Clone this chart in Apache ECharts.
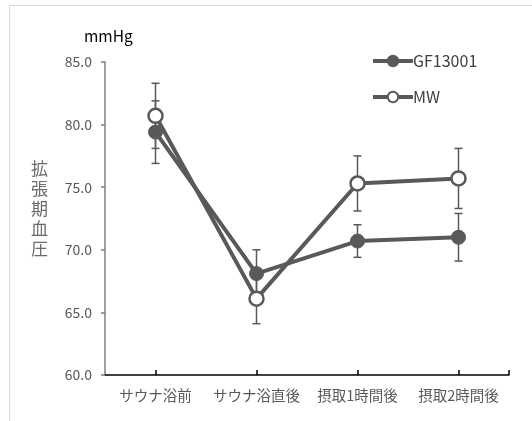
<!DOCTYPE html>
<html><head><meta charset="utf-8">
<script src="https://cdn.jsdelivr.net/npm/echarts@6/dist/echarts.min.js"></script>
<style>html,body{margin:0;padding:0;background:#fff}#c{width:532px;height:421px}</style>
</head><body><div id="c"></div>
<script>
const categories = ['サウナ浴前', 'サウナ浴直後', '摂取1時間後', '摂取2時間後'];
const gfMean = [79.4, 68.1, 70.7, 71.0];
const gfErr = [2.5, 1.9, 1.3, 1.9];
const mwMean = [80.7, 66.1, 75.3, 75.7];
const mwErr = [2.6, 2.0, 2.2, 2.4];
const yTicks = [60, 65, 70, 75, 80, 85];

const font = '"Noto Sans CJK JP", "Noto Sans", sans-serif';
function errData(mean, err) {
  return mean.map((m, i) => [i, m - err[i], m + err[i]]);
}
function errSeries(mean, err) {
  return {
    type: 'custom', z: 1, silent: true,
    data: errData(mean, err),
    renderItem: function (params, api) {
      const x = api.value(0);
      const lo = api.coord([x, api.value(1)]);
      const hi = api.coord([x, api.value(2)]);
      const w = 4;
      const st = { stroke: '#595959', lineWidth: 1.5 };
      return { type: 'group', children: [
        { type: 'line', shape: { x1: lo[0], y1: lo[1], x2: hi[0], y2: hi[1] }, style: st },
        { type: 'line', shape: { x1: lo[0] - w, y1: lo[1], x2: lo[0] + w, y2: lo[1] }, style: st },
        { type: 'line', shape: { x1: hi[0] - w, y1: hi[1], x2: hi[0] + w, y2: hi[1] }, style: st }
      ]};
    }
  };
}
const chart = echarts.init(document.getElementById('c'));
chart.setOption({
  animation: false,
  backgroundColor: '#fff',
  textStyle: { fontFamily: font },
  grid: { left: 105, right: 23, top: 62, bottom: 46 },
  legend: {
    orient: 'vertical', left: 366, top: 48, itemGap: 20,
    itemWidth: 40, itemHeight: 13,
    lineStyle: { width: 4 },
    textStyle: { fontSize: 16, color: '#404040', fontFamily: font, padding: [0, 0, 0, -5] },
    data: ['GF13001', 'MW']
  },
  xAxis: {
    type: 'category', data: categories,
    axisLine: { lineStyle: { color: '#000', width: 1.5 } },
    axisTick: { show: true, inside: true, length: 5, alignWithLabel: true, lineStyle: { color: '#000', width: 1.5 } },
    axisLabel: { color: '#595959', fontSize: 14.5, margin: 13, interval: 0, fontFamily: font }
  },
  yAxis: {
    type: 'value', min: yTicks[0], max: yTicks[yTicks.length - 1], interval: 5,
    splitLine: { show: false },
    axisLine: { show: true, lineStyle: { color: '#808080', width: 1.5 } },
    axisTick: { show: true, length: 4, lineStyle: { color: '#808080', width: 1.5 } },
    axisLabel: { color: '#595959', fontSize: 14, margin: 13, fontFamily: font, formatter: v => v.toFixed(1) }
  },
  graphic: [
    { type: 'rect', shape: { x: 9.5, y: 5.5, width: 600, height: 600 }, style: { fill: 'none', stroke: '#d9d9d9', lineWidth: 1 }, z: -10 },
    { type: 'line', shape: { x1: 509, y1: 375, x2: 509, y2: 370 }, style: { stroke: '#000', lineWidth: 1.5 } },
    { type: 'text', left: 84, top: 28, style: { text: 'mmHg', fontSize: 15.5, fill: '#000', fontFamily: font } },
    { type: 'text', left: 31, top: 159, style: { text: '拡\n張\n期\n血\n圧', fontSize: 17, lineHeight: 20, fill: '#6b6b6b', fontFamily: font } }
  ],
  series: [
    errSeries(gfMean, gfErr),
    errSeries(mwMean, mwErr),
    {
      name: 'GF13001', type: 'line', data: gfMean, z: 5,
      symbol: 'circle', symbolSize: 14,
      lineStyle: { color: '#595959', width: 4 },
      itemStyle: { color: '#595959', borderColor: '#595959', borderWidth: 1 }
    },
    {
      name: 'MW', type: 'line', data: mwMean, z: 6,
      symbol: 'circle', symbolSize: 14,
      lineStyle: { color: '#595959', width: 4 },
      itemStyle: { color: '#fff', borderColor: '#595959', borderWidth: 2.5 }
    }
  ]
});
</script></body></html>
